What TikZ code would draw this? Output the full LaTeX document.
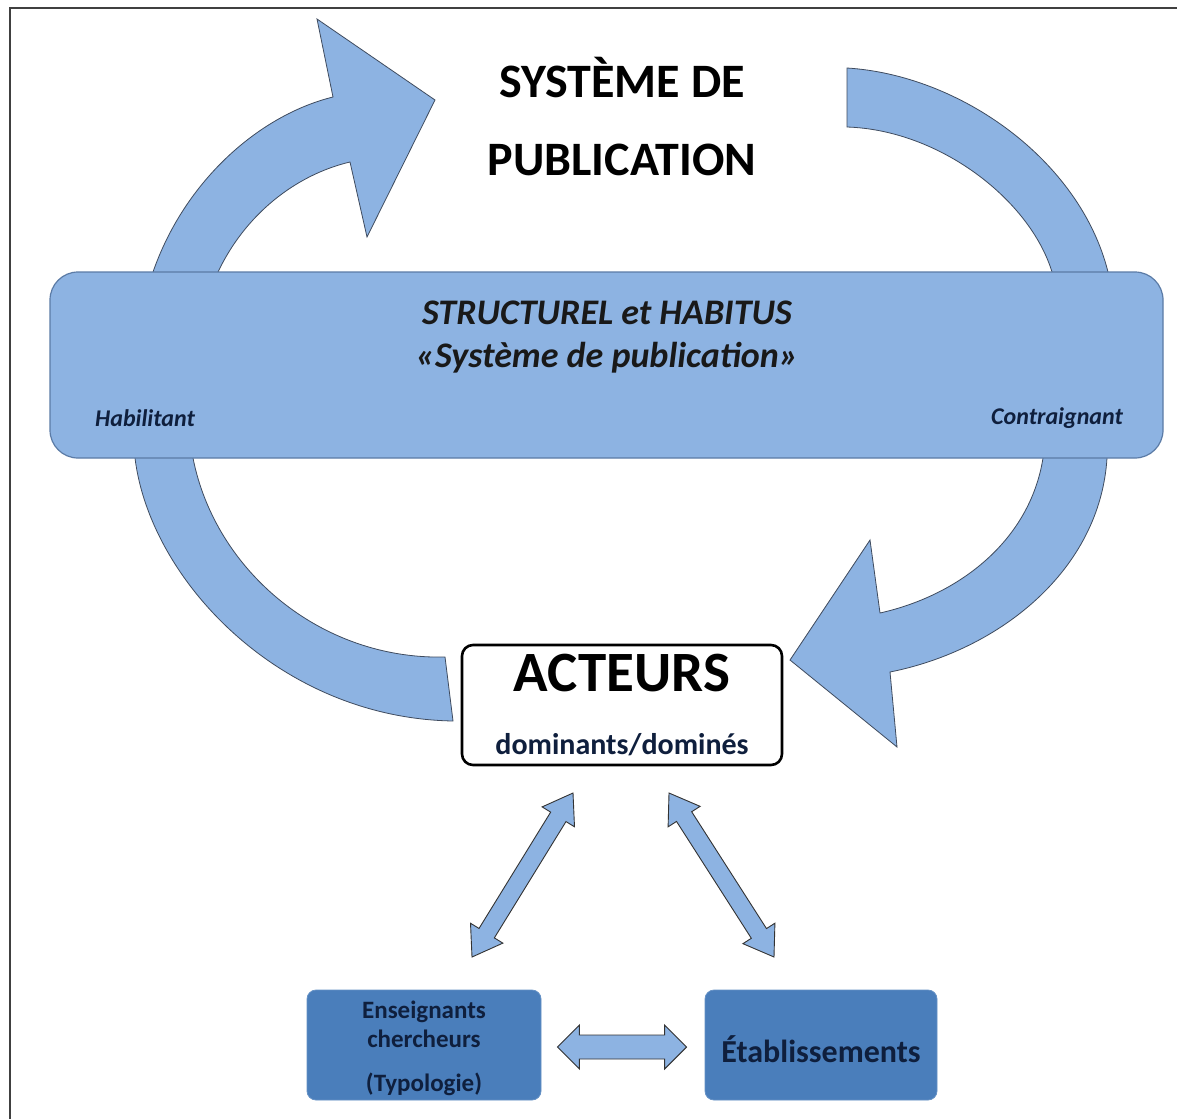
\documentclass[tikz,border=0pt]{standalone}
\usepackage{fontspec}
\setmainfont{Carlito}
\usetikzlibrary{calc}
\definecolor{lb}{HTML}{8DB3E2}
\definecolor{arcedge}{HTML}{3F4B5E}
\definecolor{bandedge}{HTML}{5B7BA6}
\definecolor{boxblue}{HTML}{4A7EBB}
\definecolor{navy}{HTML}{0F1F3D}
\newcommand{\dbarrow}[5]{%
  \coordinate (dA) at ($(#1)!#3!(#2)$);
  \coordinate (dB) at ($(#2)!#3!(#1)$);
  \path[smallarrow] (#1) -- ($(dA)!#4!90:(#2)$) -- ($(dA)!#5!90:(#2)$) -- ($(dB)!#5!-90:(#1)$) -- ($(dB)!#4!-90:(#1)$) -- (#2) -- ($(dB)!#4!90:(#1)$) -- ($(dB)!#5!90:(#1)$) -- ($(dA)!#5!-90:(#2)$) -- ($(dA)!#4!-90:(#2)$) -- cycle;
}
\begin{document}
\begin{tikzpicture}[x=1pt,y=-1pt,
  bigarrow/.style={fill=lb, draw=arcedge, line width=0.8pt, line join=miter},
  bandbox/.style={fill=lb, draw=bandedge, line width=1.2pt, rounded corners=28pt, minimum width=1113pt, minimum height=186pt, inner sep=0pt},
  actbox/.style={fill=white, draw=black, line width=2.6pt, rounded corners=11pt, minimum width=320pt, minimum height=120pt, inner sep=0pt},
  bluebox/.style={fill=boxblue, draw=boxblue!85!white, line width=0.8pt, rounded corners=9pt, minimum height=110pt, inner sep=0pt},
  smallarrow/.style={fill=lb, draw=black!80, line width=0.9pt, line join=miter},
  title/.style={font=\fontsize{48}{52}\selectfont\bfseries, text=black},
  bandtxt/.style={font=\fontsize{36}{40}\selectfont\bfseries\itshape, text=black!90},
  sidetxt/.style={font=\fontsize{24}{27}\selectfont\bfseries\itshape, text=navy},
  boxtxt/.style={font=\fontsize{25}{28}\selectfont\bfseries, text=navy}
]
\useasboundingbox (0,0) rectangle (1177,1119);
\fill[white] (0,0) rectangle (1177,1119);
\draw[line width=1.6pt, black!75] (10,1119) -- (10,8) -- (1177,8);

% curved arrows
\path[bigarrow] (153,300) -- (153,272) .. controls (185,180) and (260,115) .. (333,97)
  -- (317,19) -- (435,100) -- (367,237) -- (350,162)
  .. controls (295,175) and (245,215) .. (218,272) -- (218,300) -- cycle;
\path[bigarrow] (847,68) .. controls (960,75) and (1080,160) .. (1108,272) -- (1108,300)
  -- (1052,300) -- (1052,272) .. controls (1030,200) and (940,130) .. (847,127) -- cycle;
\path[bigarrow] (1107,430) -- (1107,458) .. controls (1100,570) and (1000,650) .. (890,672)
  -- (897,747) -- (790,660) -- (870,540) -- (880,613)
  .. controls (960,595) and (1030,540) .. (1043,458) -- (1043,430) -- cycle;
\path[bigarrow] (135,430) -- (135,458) .. controls (150,580) and (280,718) .. (453,721)
  -- (445,657) .. controls (320,660) and (215,570) .. (193,458) -- (193,430) -- cycle;

% band
\node[bandbox] (band) at (606.5,365) {};
\node[bandtxt] (struct) at (607,313) {STRUCTUREL et HABITUS};
\node[bandtxt] (syspub) at (607,358) {«Système de publication»};
\node[sidetxt] (hab) at (145,418) {Habilitant};
\node[sidetxt] (contr) at (1057,418) {Contraignant};

% title
\node[title] (sys) at (622,78) {SYSTÈME DE};
\node[title] (pub) at (622,160) {PUBLICATION};

% acteurs
\node[actbox] (act) at (622,705) {};
\node[font=\fontsize{57}{60}\selectfont\bfseries] (acttxt) at (622,673) {ACTEURS};
\node[font=\fontsize{30}{34}\selectfont\bfseries, text=navy] (dom) at (622,745) {dominants/dominés};

% bottom boxes
\node[bluebox, minimum width=234pt] (ens) at (424,1045) {};
\node[boxtxt] (ens1) at (424,1012) {Enseignants};
\node[boxtxt] (ens2) at (424,1039) {chercheurs};
\node[boxtxt] (ens3) at (424,1084) {(Typologie)};
\node[bluebox, minimum width=232pt] (eta) at (821,1045) {};
\node[font=\fontsize{32}{36}\selectfont\bfseries, text=navy] (etatxt) at (821,1049) {Établissements};

% double arrows
\coordinate (la) at (573,793);
\coordinate (lb) at (472,957);
\coordinate (ra) at (669,793);
\coordinate (rb) at (774,957);
\coordinate (ha) at ($(ens.east)+(16,2)$);
\coordinate (hb) at ($(eta.west)+(-18,2)$);
\dbarrow{la}{lb}{28pt}{19pt}{9pt}
\dbarrow{ra}{rb}{28pt}{19pt}{9pt}
\dbarrow{ha}{hb}{22pt}{22pt}{12pt}
\end{tikzpicture}
\end{document}
